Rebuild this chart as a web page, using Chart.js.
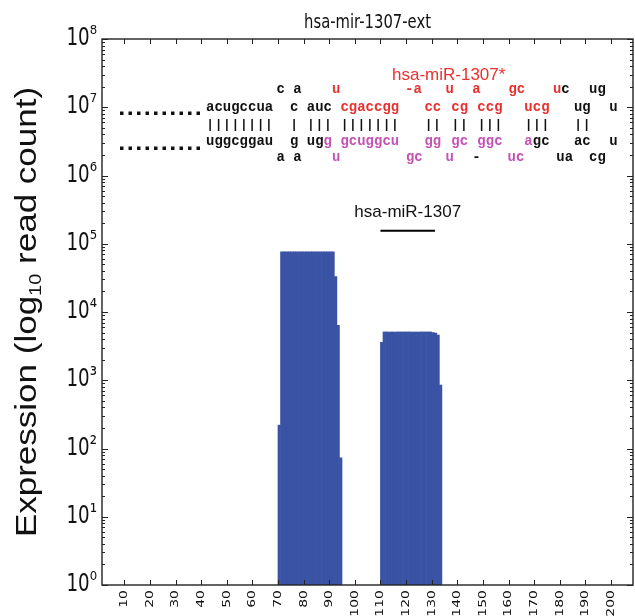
<!DOCTYPE html>
<html>
<head>
<meta charset="utf-8">
<script src="https://cdn.jsdelivr.net/npm/chart.js@4.4.0/dist/chart.umd.min.js"></script>
<style>
  html, body { margin: 0; padding: 0; background: #fff; }
</style>
</head>
<body>
<canvas id="chart" width="635" height="616"></canvas>
<script>
"use strict";

// read counts per nucleotide position (hsa-mir-1307-ext)
const readPos = [
  70, 71, 72, 73, 74, 75, 76, 77, 78, 79, 80, 81, 82, 83, 84, 85, 86, 87, 88, 89, 90, 91, 92, 93, 94,
  110, 111, 112, 113, 114, 115, 116, 117, 118, 119, 120, 121, 122, 123, 124, 125, 126, 127, 128, 129, 130, 131, 132, 133
];
const readCount = [
  220, 76000, 76000, 76000, 76000, 76000, 76000, 76000, 76000, 76000, 76000, 76000, 76000, 76000, 76000, 76000, 76000, 76000, 76000, 76000, 76000, 76000, 33000, 6400, 73,
  3600, 5100, 5100, 5100, 5100, 5100, 5100, 5100, 5100, 5100, 5100, 5100, 5100, 5100, 5100, 5100, 5100, 5100, 5100, 5100, 5000, 4900, 4600, 850
];
const xTicks = [10, 20, 30, 40, 50, 60, 70, 80, 90, 100, 110, 120, 130, 140, 150, 160, 170, 180, 190, 200];
const yTicks = [1, 10, 100, 1e3, 1e4, 1e5, 1e6, 1e7, 1e8];
const xRange = [1.3, 208.6];
const yRange = [1, 1e8];

// mature hsa-miR-1307 span (bar over the second peak)
const matureSpan = [110, 131.3];
const matureLevel = 155000;

// hairpin drawing, anchored on position / count
const hairpinAnchor = { x: 41.9, y: 1e7 };
const hairpinRows = [
  { dy: -18, toks: [[8.4,'c','k'],[10.4,'a','k'],[15,'u','r'],[23.7,'-a','r'],[28.5,'u','r'],[31.7,'a','r'],[36,'gc','r'],[41.3,'u','r'],[42.3,'c','k'],[45.6,'ug','k']] },
  { dy: 0, toks: [[0,'acugccua','k'],[10,'c','k'],[12,'auc','k'],[16,'cgaccgg','r'],[26,'cc','r'],[29.2,'cg','r'],[32.3,'ccg','r'],[37.9,'ucg','r'],[43.8,'ug','k'],[48,'u','k']] },
  { dy: 17, toks: [[0,'||||||||','k'],[10,'|','k'],[12,'|||','k'],[16,'|||||||','k'],[26,'||','k'],[29.2,'||','k'],[32.3,'|||','k'],[37.9,'|||','k'],[43.8,'||','k']] },
  { dy: 34, toks: [[0,'uggcggau','k'],[10,'g','k'],[12,'ug','k'],[14,'g','m'],[16,'gcuggcu','m'],[26,'gg','m'],[29.2,'gc','m'],[32.3,'ggc','m'],[37.9,'a','m'],[38.9,'gc','k'],[43.8,'ac','k'],[48,'u','k']] },
  { dy: 50, toks: [[8.4,'a','k'],[10.4,'a','k'],[15,'u','m'],[23.8,'gc','m'],[28.5,'u','m'],[31.7,'-','k'],[35.9,'uc','m'],[41.7,'ua','k'],[45.6,'cg','k']] }
];
var hairpinColors = { k: '#111111', r: '#e8312f', m: '#c452b4' };

var SQ = 0.71; // original figure is squeezed sideways
var supDigits = ['\u2070','\u00b9','\u00b2','\u00b3','\u2074','\u2075','\u2076','\u2077','\u2078','\u2079'];

function drawText(ctx, text, x, y, font, color, align, baseline, rot, sx) {
  ctx.save();
  ctx.translate(x, y);
  ctx.scale(sx, 1);
  if (rot) ctx.rotate(rot);
  ctx.font = font;
  ctx.fillStyle = color;
  ctx.textAlign = align;
  ctx.textBaseline = baseline;
  ctx.fillText(text, 0, 0);
  ctx.restore();
}

var framePlugin = {
  id: 'frame',
  afterDraw: function (chart) {
    var ctx = chart.ctx;
    var a = chart.chartArea;
    var xs = chart.scales.x;
    var ys = chart.scales.y;

    // frame
    ctx.save();
    ctx.strokeStyle = '#222';
    ctx.lineWidth = 1.4;
    ctx.strokeRect(a.left, a.top, a.right - a.left, a.bottom - a.top);

    // inward ticks
    ctx.lineWidth = 1;
    ctx.beginPath();
    xTicks.forEach(function (v) {
      var px = Math.round(xs.getPixelForValue(v)) + 0.5;
      ctx.moveTo(px, a.bottom); ctx.lineTo(px, a.bottom - 5);
      ctx.moveTo(px, a.top); ctx.lineTo(px, a.top + 5);
    });
    yTicks.forEach(function (v, i) {
      for (var m = 1; m < 10; m++) {
        if (i === yTicks.length - 1 && m > 1) break;
        var py = Math.round(ys.getPixelForValue(v * m)) + 0.5;
        var len = m === 1 ? 6 : 3;
        ctx.moveTo(a.left, py); ctx.lineTo(a.left + len, py);
        ctx.moveTo(a.right, py); ctx.lineTo(a.right - len, py);
      }
    });
    ctx.stroke();
    ctx.restore();

    // x tick labels (vertical)
    xTicks.forEach(function (v) {
      drawText(ctx, String(v), xs.getPixelForValue(v), a.bottom + 5,
        '14px "DejaVu Sans"', '#111', 'right', 'middle', -Math.PI / 2, 0.8);
    });

    // y tick labels 10^n
    yTicks.forEach(function (v) {
      var py = ys.getPixelForValue(v);
      var e = supDigits[Math.round(Math.log10(v))];
      ctx.font = '24px "DejaVu Sans"';
      var wE = ctx.measureText(e).width * 0.76;
      var wB = ctx.measureText('10').width * 0.76;
      var right = a.left - 5;
      drawText(ctx, '10', right - wE - wB, py, '24px "DejaVu Sans"', '#111', 'left', 'middle', 0, 0.76);
      drawText(ctx, e, right - wE, py - 3, '24px "DejaVu Sans"', '#111', 'left', 'middle', 0, 0.76);
    });

    // y axis title with subscript
    ctx.save();
    ctx.translate(36, (a.top + a.bottom) / 2);
    ctx.scale(0.86, 1);
    ctx.rotate(-Math.PI / 2);
    ctx.fillStyle = '#111';
    ctx.textBaseline = 'alphabetic';
    ctx.textAlign = 'left';
    var big = '35px "Liberation Sans"', small = '20px "Liberation Sans"';
    ctx.font = big;
    var w1 = ctx.measureText('Expression (log').width;
    var w3 = ctx.measureText(' read count)').width;
    ctx.font = small;
    var w2 = ctx.measureText('10').width;
    var x0 = -(w1 + w2 + w3) / 2;
    ctx.font = big; ctx.fillText('Expression (log', x0, 0);
    ctx.font = small; ctx.fillText('10', x0 + w1, 6);
    ctx.font = big; ctx.fillText(' read count)', x0 + w1 + w2, 0);
    ctx.restore();

    // chart title
    drawText(ctx, 'hsa-mir-1307-ext', (a.left + a.right) / 2, 23,
      '20px "DejaVu Sans"', '#111', 'center', 'middle', 0, 0.74);

    // hairpin structure
    var ox = xs.getPixelForValue(hairpinAnchor.x);
    var oy = ys.getPixelForValue(hairpinAnchor.y);
    var cw = 8.4;
    hairpinRows.forEach(function (row) {
      row.toks.forEach(function (t) {
        for (var k = 0; k < t[1].length; k++) {
          var ch = t[1][k];
          drawText(ctx, ch, ox + (t[0] + k + 0.5) * cw, oy + row.dy,
            ch === '|' ? 'bold 13px "Liberation Mono"' : 'bold 15px "Liberation Mono"',
            hairpinColors[t[2]], 'center', 'middle', 0, 0.93);
        }
      });
    });
    // dotted continuation on the left
    ctx.save();
    ctx.strokeStyle = '#111';
    ctx.lineWidth = 3.5;
    ctx.setLineDash([3.5, 5]);
    ctx.beginPath();
    ctx.moveTo(ox - 86, oy + 6); ctx.lineTo(ox - 6, oy + 6);
    ctx.moveTo(ox - 86, oy + 41); ctx.lineTo(ox - 6, oy + 41);
    ctx.stroke();
    ctx.restore();
    drawText(ctx, 'hsa-miR-1307*', ox + 186, oy - 32, '17px "Liberation Sans"', hairpinColors.r, 'left', 'middle', 0, 1);

    // mature label
    var mx = (xs.getPixelForValue(matureSpan[0]) + xs.getPixelForValue(matureSpan[1])) / 2;
    var my = ys.getPixelForValue(matureLevel);
    drawText(ctx, 'hsa-miR-1307', mx, my - 18, '17px "Liberation Sans"', '#111', 'center', 'middle', 0, 1);
  }
};

new Chart(document.getElementById('chart'), {
  type: 'bar',
  data: {
    datasets: [
      {
        type: 'bar',
        data: readPos.map(function (p, i) { return { x: p + 0.5, y: readCount[i] }; }),
        backgroundColor: '#3a53a4',
        borderWidth: 0,
        barPercentage: 1,
        categoryPercentage: 1,
        order: 2
      },
      {
        type: 'line',
        data: matureSpan.map(function (x) { return { x: x, y: matureLevel }; }),
        borderColor: '#000',
        borderWidth: 2,
        pointRadius: 0,
        order: 1
      }
    ]
  },
  options: {
    responsive: false,
    animation: false,
    events: [],
    layout: { padding: { top: 39, right: 2, bottom: 0, left: 0 } },
    plugins: { legend: { display: false }, tooltip: { enabled: false }, title: { display: false } },
    scales: {
      x: {
        type: 'linear',
        min: xRange[0],
        max: xRange[1],
        offset: false,
        afterBuildTicks: function (s) { s.ticks = xTicks.map(function (v) { return { value: v }; }); },
        afterFit: function (s) { s.height = 31; },
        ticks: { display: false },
        grid: { display: false },
        border: { display: false }
      },
      y: {
        type: 'logarithmic',
        min: yRange[0],
        max: yRange[1],
        afterBuildTicks: function (s) { s.ticks = yTicks.map(function (v) { return { value: v }; }); },
        afterFit: function (s) { s.width = 102; },
        ticks: { display: false },
        grid: { display: false },
        border: { display: false }
      }
    }
  },
  plugins: [framePlugin]
});
</script>
</body>
</html>
